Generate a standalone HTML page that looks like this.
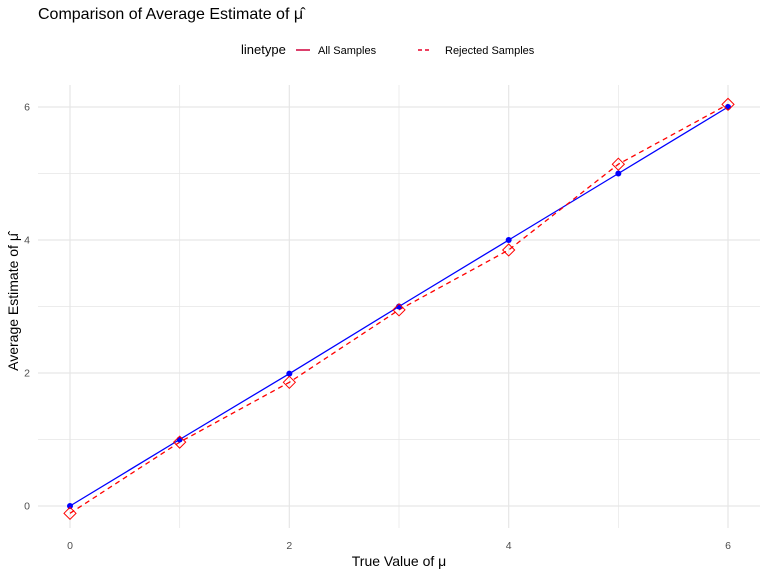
<!DOCTYPE html>
<html><head><meta charset="utf-8"><style>
body{margin:0;background:#fff;font-family:"Liberation Sans",sans-serif}
svg text{font-family:"Liberation Sans",sans-serif}
</style></head><body>
<svg id="chart" width="768" height="576">
<text x="38" y="19" font-size="16" fill="#000">Comparison of Average Estimate of μ̂</text>
<g>
<text x="241" y="54" font-size="13">linetype</text>
<line x1="296" y1="50" x2="310" y2="50" stroke="#d1003a" stroke-width="1.5"/>
<text x="318" y="54" font-size="11">All Samples</text>
<line x1="418" y1="50" x2="432" y2="50" stroke="#e8002a" stroke-width="1.5" stroke-dasharray="4,3"/>
<text x="445" y="54" font-size="11">Rejected Samples</text>
</g>
<g id="grid"></g><g id="axes"></g><g id="marks"></g>
<text x="399" y="566" font-size="14" text-anchor="middle">True Value of μ</text>
<text transform="translate(18,302) rotate(-90)" font-size="14" text-anchor="middle">Average Estimate of μ̂</text>
</svg>
<script>
const trueMu=[0,1,2,3,4,5,6];
const allSamples=[0,1,1.99,3,4,5,6];
const rejectedSamples=[-0.11,0.96,1.86,2.95,3.85,5.14,6.04];
const xTicks=[0,2,4,6];
const yTicks=[0,2,4,6];
const NS="http://www.w3.org/2000/svg";
const sx=v=>70+v*109.67, sy=v=>506-v*66.5;
const L=38,R=760,T=85,B=528;
function mk(t,a,p){const e=document.createElementNS(NS,t);for(const k in a)e.setAttribute(k,a[k]);p.appendChild(e);return e;}
const g=document.getElementById('grid'),ax=document.getElementById('axes'),m=document.getElementById('marks');
for(let v=-1;v<=7;v++){const x=sx(v);if(x<L||x>R)continue;const l=mk('line',{x1:x,x2:x,y1:T,y2:B,stroke:'#e6e6e6','stroke-width':v%2?0.7:1.2},g);

}
for(let v=-1;v<=7;v++){const y=sy(v);if(y<T||y>B)continue;const l=mk('line',{x1:L,x2:R,y1:y,y2:y,stroke:'#e6e6e6','stroke-width':v%2?0.7:1.2},g);

}
xTicks.forEach(v=>{const t=mk('text',{x:sx(v),y:549,'font-size':10.5,fill:'#4d4d4d','text-anchor':'middle'},ax);t.textContent=v;

});
yTicks.forEach(v=>{const t=mk('text',{x:30,y:sy(v)+3.5,'font-size':10.5,fill:'#4d4d4d','text-anchor':'end'},ax);t.textContent=v;

});
const pa=mk('polyline',{points:trueMu.map((x,i)=>sx(x)+','+sy(allSamples[i])).join(' '),fill:'none',stroke:'#0000ff','stroke-width':1.3},m);


const pr=mk('polyline',{points:trueMu.map((x,i)=>sx(x)+','+sy(rejectedSamples[i])).join(' '),fill:'none',stroke:'#ff0000','stroke-width':1.3,'stroke-dasharray':'5,4'},m);


trueMu.forEach((x,i)=>{const c=mk('circle',{cx:sx(x),cy:sy(allSamples[i]),r:3,fill:'#0000ff'},m);


const X=sx(x),Y=sy(rejectedSamples[i]),d=6;
const p=mk('polygon',{points:`${X},${Y-d} ${X+d},${Y} ${X},${Y+d} ${X-d},${Y}`,fill:'none',stroke:'#ff0000','stroke-width':1},m);

});
</script>
</body></html>
